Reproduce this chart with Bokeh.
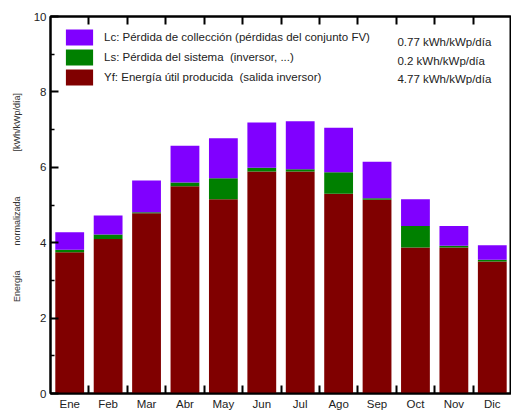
from bokeh.plotting import figure
from bokeh.models import (FactorRange, Range1d, LinearAxis, CategoricalAxis, FixedTicker,
                          Legend, LegendItem, Label, ColumnDataSource, CustomLabelingPolicy)
from bokeh.embed import file_html
from bokeh.resources import INLINE

months = ["Ene", "Feb", "Mar", "Abr", "May", "Jun", "Jul", "Ago", "Sep", "Oct", "Nov", "Dic"]
yf = [3.75, 4.10, 4.78, 5.50, 5.15, 5.89, 5.89, 5.30, 5.14, 3.87, 3.87, 3.50]
ls = [0.06, 0.12, 0.03, 0.10, 0.56, 0.10, 0.06, 0.57, 0.04, 0.57, 0.05, 0.05]
lc = [0.47, 0.50, 0.84, 0.97, 1.06, 1.20, 1.27, 1.18, 0.97, 0.71, 0.52, 0.38]

legend_labels = ["Lc: Pérdida de collección (pérdidas del conjunto FV)",
                 "Ls: Pérdida del sistema  (inversor, ...)",
                 "Yf: Energía útil producida  (salida inversor)"]
legend_values = ["0.77 kWh/kWp/día", "0.2 kWh/kWp/día", "4.77 kWh/kWp/día"]
y_ticks = [0, 2, 4, 6, 8, 10]
y_minor = [1, 3, 5, 7, 9]

FONT = "Liberation Sans"
C_YF, C_LS, C_LC = "#800000", "#008000", "#8000ff"
NB = "\u00a0"

source = ColumnDataSource(dict(months=months, yf=yf, ls=ls, lc=lc))

p = figure(width=511, height=412, x_range=FactorRange(factors=months), y_range=Range1d(0, 10),
           x_axis_location=None, y_axis_location=None, output_backend="svg",
           toolbar_location=None, min_border_left=50, min_border_right=0,
           min_border_top=16, min_border_bottom=18)
p.grid.visible = False
p.outline_line_color = "black"
p.outline_line_width = 2
p.background_fill_color = "white"

rs = p.vbar_stack(["yf", "ls", "lc"], x="months", width=0.75, color=[C_YF, C_LS, C_LC],
                  line_color=None, source=source)

no_labels = CustomLabelingPolicy(code="return new Set()")

yax = LinearAxis(ticker=FixedTicker(ticks=y_ticks, minor_ticks=y_minor))
yax.major_tick_in = 8
yax.major_tick_out = 0
yax.minor_tick_in = 4
yax.minor_tick_out = 0
yax.axis_line_color = "black"
yax.axis_line_width = 2
yax.major_tick_line_width = 2
yax.minor_tick_line_width = 1.5
yax.major_label_text_font = FONT
yax.major_label_text_font_size = "11.5px"
yax.major_label_text_color = "#222222"
yax.major_label_standoff = 4
yax.axis_label = (NB * 6 + "Energía" + NB * 10 + "normalizada" + NB * 18 + "[kWh/kWp/día]")
yax.axis_label_text_font = FONT
yax.axis_label_text_font_size = "9px"
yax.axis_label_text_font_style = "normal"
yax.axis_label_text_color = "#333333"
yax.axis_label_standoff = 9
p.add_layout(yax, "left")

# category boundaries (synthetic coordinates of the factor range)
boundaries = list(range(1, len(months)))

def xtick_axis():
    ax = LinearAxis(ticker=FixedTicker(ticks=boundaries, minor_ticks=[]))
    ax.major_tick_in = 8
    ax.major_tick_out = 0
    ax.major_tick_line_width = 2
    ax.axis_line_color = "black"
    ax.axis_line_width = 2
    ax.major_label_text_font_size = "0px"
    ax.major_label_standoff = 0
    ax.major_label_policy = no_labels
    return ax

p.add_layout(xtick_axis(), "below")
p.add_layout(xtick_axis(), "above")

xl = CategoricalAxis()
xl.major_tick_in = 0
xl.major_tick_out = 0
xl.axis_line_color = None
xl.major_label_text_font = FONT
xl.major_label_text_font_size = "11.5px"
xl.major_label_text_color = "#222222"
xl.major_label_standoff = 4
p.add_layout(xl, "below")

legend = Legend(items=[LegendItem(label=legend_labels[0], renderers=[rs[2]]),
                       LegendItem(label=legend_labels[1], renderers=[rs[1]]),
                       LegendItem(label=legend_labels[2], renderers=[rs[0]])],
                location=(12, 306), orientation="vertical")
legend.glyph_width = 34
legend.glyph_height = 20
legend.label_height = 20
legend.spacing = 0
legend.padding = 0
legend.margin = 0
legend.border_line_color = None
legend.background_fill_alpha = 0
legend.label_standoff = 8
legend.label_text_font = FONT
legend.label_text_font_size = "11.5px"
legend.label_text_color = "#222222"
p.add_layout(legend)

for i, txt in enumerate(legend_values):
    p.add_layout(Label(x=9.03, y=9.33 - i * 0.5, text=txt,
                       text_font=FONT, text_font_size="11.5px", text_color="#222222",
                       text_baseline="middle"))

open("out.html", "w").write(file_html(p, INLINE))
